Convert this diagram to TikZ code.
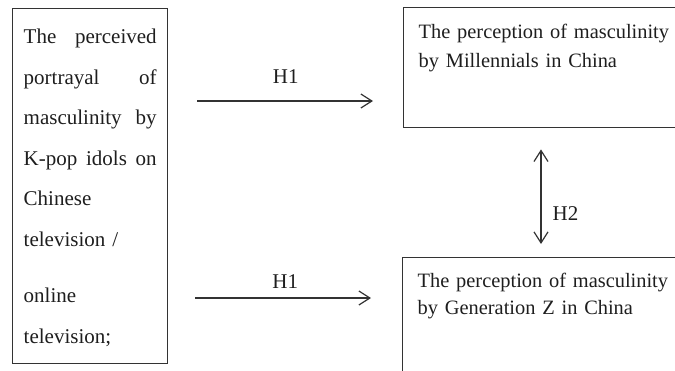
\documentclass[tikz,border=0pt]{standalone}
\usepackage{fontspec}
\setmainfont{Liberation Serif}
\usetikzlibrary{arrows.meta}
\definecolor{ink}{HTML}{1E1E1E}
\definecolor{rule}{HTML}{333333}

\begin{document}
\begin{tikzpicture}[x=1pt,y=-1pt,
  every node/.style={text=ink},
  box/.style={draw=rule, line width=1.4pt, anchor=north west, inner ysep=0pt, align=left},
  link/.style={draw=rule, line width=1.2pt, -{Straight Barb[length=11pt,width=14pt]}},
  both/.style={draw=rule, line width=1.2pt, {Straight Barb[length=11pt,width=14pt]}-{Straight Barb[length=11pt,width=14pt]}},
  hyp/.style={inner sep=0pt, font=\fontsize{21}{25}\selectfont}]

\useasboundingbox (0,0) rectangle (675,370);
\clip (0,0) rectangle (675,370);

\node[box, inner xsep=11pt, text width=133pt, text height=35pt, text depth=320pt,
  font=\fontsize{21}{40.5}\selectfont] (portrayal) at (12,8)
  {The\hfill perceived\\
   portrayal\hfill of\\
   masculinity\hfill by\\
   K-pop\hfill idols\hfill on\\
   Chinese\\
   television /\\[16pt]
   online\\
   television;};

\node[box, inner xsep=15pt, text width=280pt, text height=31pt, text depth=89pt,
  font=\fontsize{20.4}{29}\selectfont] (millennials) at (403,7)
  {The perception of masculinity\\ by Millennials in China};

\node[box, inner xsep=15pt, text width=280pt, text height=30pt, text depth=150pt,
  font=\fontsize{20.4}{27}\selectfont] (genz) at (402,257)
  {The perception of masculinity\\ by Generation Z in China};

\coordinate (h1a) at (0,101);
\coordinate (h1b) at (0,298);
\coordinate (h2) at (541,0);

\draw[link, shorten <=29pt, shorten >=30pt] (portrayal.east |- h1a) -- node[hyp, above=17pt] {H1} (millennials.west |- h1a);
\draw[link, shorten <=27pt, shorten >=31pt] (portrayal.east |- h1b) -- node[hyp, above=9pt] {H1} (genz.west |- h1b);
\draw[both, shorten <=21pt, shorten >=13pt] (millennials.south -| h2) -- node[hyp, pos=0.66, right=11pt] {H2} (genz.north -| h2);

\end{tikzpicture}
\end{document}
